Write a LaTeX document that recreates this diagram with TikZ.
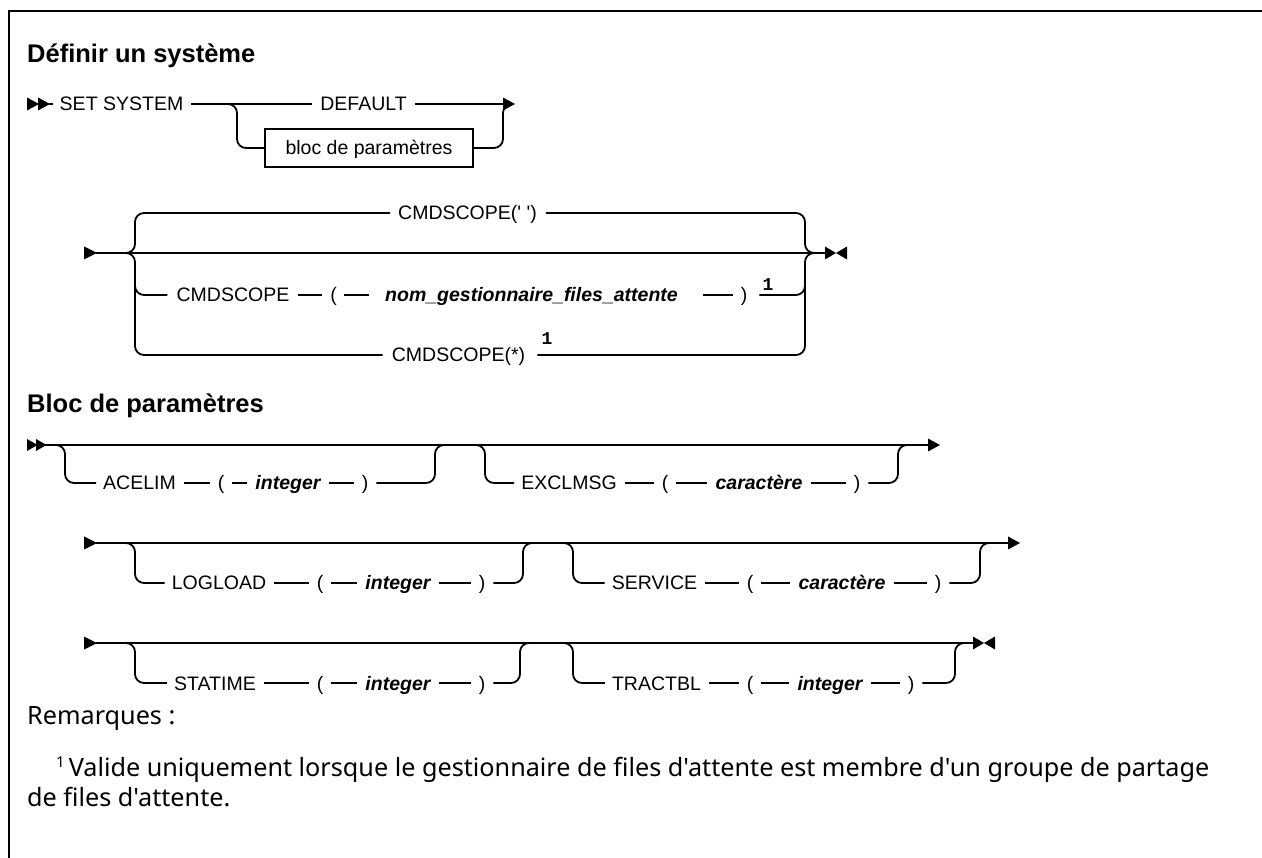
\documentclass[tikz,border=0pt]{standalone}
\usepackage{fontspec}
\newfontfamily\dfont{Liberation Sans}
\newfontfamily\mfont{Liberation Mono}
\newfontfamily\nfont{Noto Sans}
\tikzset{
  rail/.style={line width=1.8pt},
  rc/.style={rounded corners=9pt},
  tok/.style={inner sep=0pt, text height=14pt, text depth=0pt, font=\dfont\fontsize{19.5}{22}\selectfont},
  var/.style={tok, font=\dfont\fontsize{19.5}{22}\selectfont\bfseries\itshape},
  supnum/.style={inner sep=0pt, font=\mfont\fontsize{18}{20}\selectfont\bfseries},
  head/.style={inner sep=0pt, anchor=base west, font=\dfont\fontsize{25.5}{30}\selectfont\bfseries},
  note/.style={inner sep=0pt, anchor=base west, font=\nfont\fontsize{25.2}{30}\selectfont},
  gap/.style={shorten <=8pt, shorten >=8pt},
}
\begin{document}
\begin{tikzpicture}[x=1pt,y=-1pt]
\useasboundingbox (0,0) rectangle (1262,858);
\draw[line width=2pt] (8.5,870) -- (8.5,11) -- (1270,11);

\node[head] (h1) at (27,63) {Définir un système};

% ---- row 1
\fill (27,97.5) -- (39,104) -- (27,110.5) -- cycle;
\fill (38,97.5) -- (50,104) -- (38,110.5) -- cycle;
\node[tok] (set) at (121.5,104) {SET SYSTEM};
\node[tok] (dflt) at (363.5,104) {DEFAULT};
\node[draw, line width=1.3pt, minimum width=208pt, minimum height=38pt, inner sep=0pt, text height=14pt, text depth=0pt, font=\dfont\fontsize{19.5}{22}\selectfont] (blk) at (369,148) {bloc de paramètres};
\draw[rail, shorten >=7pt] (49,104) -- (set.west);
\draw[rail, gap] (set) -- (dflt);
\draw[rail, shorten <=8pt] (dflt.east) -- (505,104);
\fill (503,97.5) -- (515,104) -- (503,110.5) -- cycle;
\draw[rail, rc] (225,104) -| (237,148) -- (blk.west);
\draw[rail, rc] (blk.east) -| (503,104) -- (506,104);

% ---- row 2
\fill (84,246.5) -- (97,253) -- (84,259.5) -- cycle;
\draw[rail] (96,253) -- (826,253);
\fill (825,246.5) -- (836,253) -- (825,259.5) -- cycle;
\fill (847,246.5) -- (836,253) -- (847,259.5) -- cycle;
\node[tok] (cs1) at (467.5,213) {CMDSCOPE(' ')};
\node[tok] (cs2) at (233,295) {CMDSCOPE};
\node[tok] (lp2) at (333.5,295) {(};
\node[var] (qm) at (531.5,295) {nom\_gestionnaire\_files\_attente};
\node[tok] (rp2) at (744,295) {)};
\node[supnum] (n2) at (768,285) {1};
\node[tok] (cs3) at (458.5,355) {CMDSCOPE(*)};
\node[supnum] (n3) at (547,339) {1};
\draw[rail, rc] (122,253) -| (135,213) -- ([xshift=-8pt]cs1.west);
\draw[rail, rc] (122,253) -| (135,355) -- ([xshift=-9pt]cs3.west);
\draw[rail, rc] (135,270) |- ([xshift=-9pt]cs2.west);
\draw[rail, rc] ([xshift=9pt]cs1.east) -| (805,253) -- (815,253);
\draw[rail, rc] ([xshift=12pt]cs3.east) -| (805,253) -- (815,253);
\draw[rail, rc] ([xshift=12pt]rp2.east) -| (805,270);
\draw[rail, gap] (cs2) -- (lp2);
\draw[rail, shorten <=7pt, shorten >=16pt] (lp2) -- (qm);
\draw[rail, shorten <=25pt, shorten >=8pt] (qm) -- (rp2);

\node[head] (h2) at (27,413) {Bloc de paramètres};

% ---- row A
\fill (27,439) -- (37.5,445) -- (27,451) -- cycle;
\fill (36,439) -- (46.5,445) -- (36,451) -- cycle;
\draw[rail] (45,445) -- (929,445);
\fill (928,438.5) -- (940,445) -- (928,451.5) -- cycle;
\node[tok] (acelim) at (139.5,483) {ACELIM};
\node[tok] (lpa) at (221,483) {(};
\node[var] (inta) at (288,483) {integer};
\node[tok] (rpa) at (365,483) {)};
\draw[rail, rc] (50,445) -| (65,483) -- ([xshift=-7pt]acelim.west);
\draw[rail, gap] (acelim) -- (lpa);
\draw[rail, gap] (lpa) -- (inta);
\draw[rail, gap] (inta) -- (rpa);
\draw[rail, rc] ([xshift=8pt]rpa.east) -| (435,445) -- (445,445);
\node[tok] (excl) at (569,483) {EXCLMSG};
\node[tok] (lpb) at (665,483) {(};
\node[var] (cara) at (759,483) {caractère};
\node[tok] (rpb) at (857,483) {)};
\draw[rail, rc] (475,445) -| (485,483) -- ([xshift=-7pt]excl.west);
\draw[rail, gap] (excl) -- (lpb);
\draw[rail, gap] (lpb) -- (cara);
\draw[rail, gap] (cara) -- (rpb);
\draw[rail, rc] ([xshift=8pt]rpb.east) -| (898,445) -- (908,445);

% ---- row B
\fill (84,536.5) -- (97,543) -- (84,549.5) -- cycle;
\draw[rail] (96,543) -- (1009,543);
\fill (1008,536.5) -- (1020,543) -- (1008,549.5) -- cycle;
\node[tok] (logload) at (219,583) {LOGLOAD};
\node[tok] (lpc) at (320,583) {(};
\node[var] (intb) at (398,583) {integer};
\node[tok] (rpc) at (482,583) {)};
\draw[rail, rc] (122,543) -| (135,583) -- ([xshift=-7pt]logload.west);
\draw[rail, gap] (logload) -- (lpc);
\draw[rail, gap] (lpc) -- (intb);
\draw[rail, gap] (intb) -- (rpc);
\draw[rail, rc] ([xshift=8pt]rpc.east) -| (523,543) -- (533,543);
\node[tok] (service) at (654.5,583) {SERVICE};
\node[tok] (lpd) at (750,583) {(};
\node[var] (carb) at (842,583) {caractère};
\node[tok] (rpd) at (938,583) {)};
\draw[rail, rc] (563,543) -| (573,583) -- ([xshift=-7pt]service.west);
\draw[rail, gap] (service) -- (lpd);
\draw[rail, gap] (lpd) -- (carb);
\draw[rail, gap] (carb) -- (rpd);
\draw[rail, rc] ([xshift=8pt]rpd.east) -| (980,543) -- (990,543);

% ---- row C
\fill (84,636.5) -- (97,643) -- (84,649.5) -- cycle;
\draw[rail] (96,643) -- (974,643);
\fill (973,636.5) -- (984,643) -- (973,649.5) -- cycle;
\fill (995,636.5) -- (984,643) -- (995,649.5) -- cycle;
\node[tok] (statime) at (215,683) {STATIME};
\node[tok] (lpe) at (320,683) {(};
\node[var] (intc) at (398,683) {integer};
\node[tok] (rpe) at (482,683) {)};
\draw[rail, rc] (122,643) -| (135,683) -- ([xshift=-7pt]statime.west);
\draw[rail, gap] (statime) -- (lpe);
\draw[rail, gap] (lpe) -- (intc);
\draw[rail, gap] (intc) -- (rpe);
\draw[rail, rc] ([xshift=8pt]rpe.east) -| (520,643) -- (530,643);
\node[tok] (tractbl) at (656.5,683) {TRACTBL};
\node[tok] (lpf) at (750,683) {(};
\node[var] (intd) at (830,683) {integer};
\node[tok] (rpf) at (911,683) {)};
\draw[rail, rc] (563,643) -| (573,683) -- ([xshift=-7pt]tractbl.west);
\draw[rail, gap] (tractbl) -- (lpf);
\draw[rail, gap] (lpf) -- (intd);
\draw[rail, gap] (intd) -- (rpf);
\draw[rail, rc] ([xshift=8pt]rpf.east) -| (955,643) -- (965,643);

% ---- notes
\node[note] (rem) at (27,724) {Remarques :};
\node[note] (fn1) at (56,776) {\raisebox{9pt}{\fontsize{15}{16}\selectfont 1}\hspace{4pt}Valide uniquement lorsque le gestionnaire de files d'attente est membre d'un groupe de partage};
\node[note] (fn2) at (27,806) {de files d'attente.};
\end{tikzpicture}
\end{document}
